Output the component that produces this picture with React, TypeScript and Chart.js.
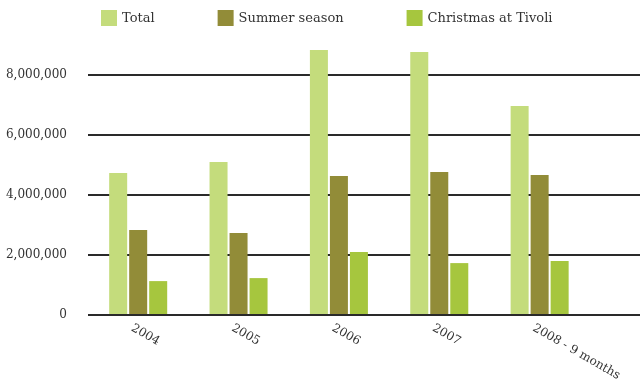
import React, { useEffect, useRef } from "react";
import { Chart, registerables } from "chart.js";

Chart.register(...registerables);

// Visitor numbers per year
const categories = ["2004", "2005", "2006", "2007", "2008 - 9 months"];
const totalVisitors = [4730000, 5100000, 8830000, 8770000, 6970000];
const summerVisitors = [2830000, 2730000, 4630000, 4770000, 4670000];
const christmasVisitors = [1130000, 1230000, 2100000, 1730000, 1800000];
const yTicks = [0, 2000000, 4000000, 6000000, 8000000];

const seriesNames = ["Total", "Summer season", "Christmas at Tivoli"];
const seriesColors = ["#c4dc7c", "#928c38", "#a6c63e"];

const FONT = "'DejaVu Serif', 'Liberation Serif', serif";
const TEXT = "#333333";

const toPoints = (values: number[]) => values.map((y, x) => ({ x, y }));

// Legend across the top, drawn on the canvas
const topLegend = {
  id: "topLegend",
  afterDraw(chart: any) {
    const { ctx } = chart;
    ctx.save();
    ctx.font = `13px ${FONT}`;
    ctx.textBaseline = "middle";
    ctx.textAlign = "left";
    let x = 101;
    const y = 10;
    const box = 16;
    chart.data.datasets.forEach((ds: any) => {
      ctx.fillStyle = ds.backgroundColor;
      ctx.fillRect(x, y, box, box);
      ctx.fillStyle = TEXT;
      ctx.fillText(ds.label, x + box + 5, y + box / 2 + 1);
      x += box + 5 + ctx.measureText(ds.label).width + 63;
    });
    ctx.restore();
  },
};

// Category labels under the bars, slanted downwards
const slantedLabels = {
  id: "slantedLabels",
  afterDraw(chart: any) {
    const { ctx } = chart;
    const xScale = chart.scales.x;
    const base = chart.chartArea.bottom + 7;
    ctx.save();
    ctx.font = `12px ${FONT}`;
    ctx.fillStyle = TEXT;
    ctx.textAlign = "left";
    ctx.textBaseline = "top";
    categories.forEach((label, i) => {
      const px = xScale.getPixelForValue(i);
      ctx.save();
      ctx.translate(px - 3, base);
      ctx.rotate(Math.PI / 6);
      ctx.fillText(label, 0, 0);
      ctx.restore();
    });
    ctx.restore();
  },
};

export default function App() {
  const canvasRef = useRef<HTMLCanvasElement | null>(null);

  useEffect(() => {
    if (!canvasRef.current) return;
    const seriesValues = [totalVisitors, summerVisitors, christmasVisitors];
    const chart = new Chart(canvasRef.current, {
      type: "bar",
      data: {
        datasets: seriesValues.map((values, i) => ({
          label: seriesNames[i],
          data: toPoints(values),
          backgroundColor: seriesColors[i],
          borderWidth: 0,
          categoryPercentage: 0.598,
          barPercentage: 0.9,
        })),
      },
      options: {
        responsive: false,
        animation: false,
        layout: { padding: { top: 45, bottom: 68, left: 0, right: 0 } },
        plugins: {
          legend: { display: false },
          tooltip: { enabled: false },
        },
        scales: {
          x: {
            type: "linear",
            min: -0.5,
            max: 5,
            offset: false,
            afterBuildTicks: (scale: any) => {
              scale.ticks = categories.map((_, i) => ({ value: i }));
            },
            afterFit: (scale: any) => {
              scale.height = 0;
            },
            ticks: { display: false },
            grid: { display: false },
            border: { display: false },
          },
          y: {
            min: 0,
            max: 9000000,
            z: 1,
            afterFit: (scale: any) => {
              scale.width = 88;
            },
            afterBuildTicks: (scale: any) => {
              scale.ticks = yTicks.map((value) => ({ value }));
            },
            ticks: {
              padding: 21,
              color: TEXT,
              font: { family: FONT, size: 12 },
              callback: (v: any) => Number(v).toLocaleString("en-US"),
            },
            grid: {
              color: "#2a2a2a",
              lineWidth: 2,
              drawTicks: false,
            },
            border: { display: false },
          },
        },
      },
      plugins: [topLegend, slantedLabels],
    });
    return () => chart.destroy();
  }, []);

  return (
    <div style={{ position: "fixed", left: 0, top: 0, width: 640, height: 383, background: "#ffffff" }}>
      <canvas ref={canvasRef} width={640} height={383} style={{ width: 640, height: 383 }} />
    </div>
  );
}
